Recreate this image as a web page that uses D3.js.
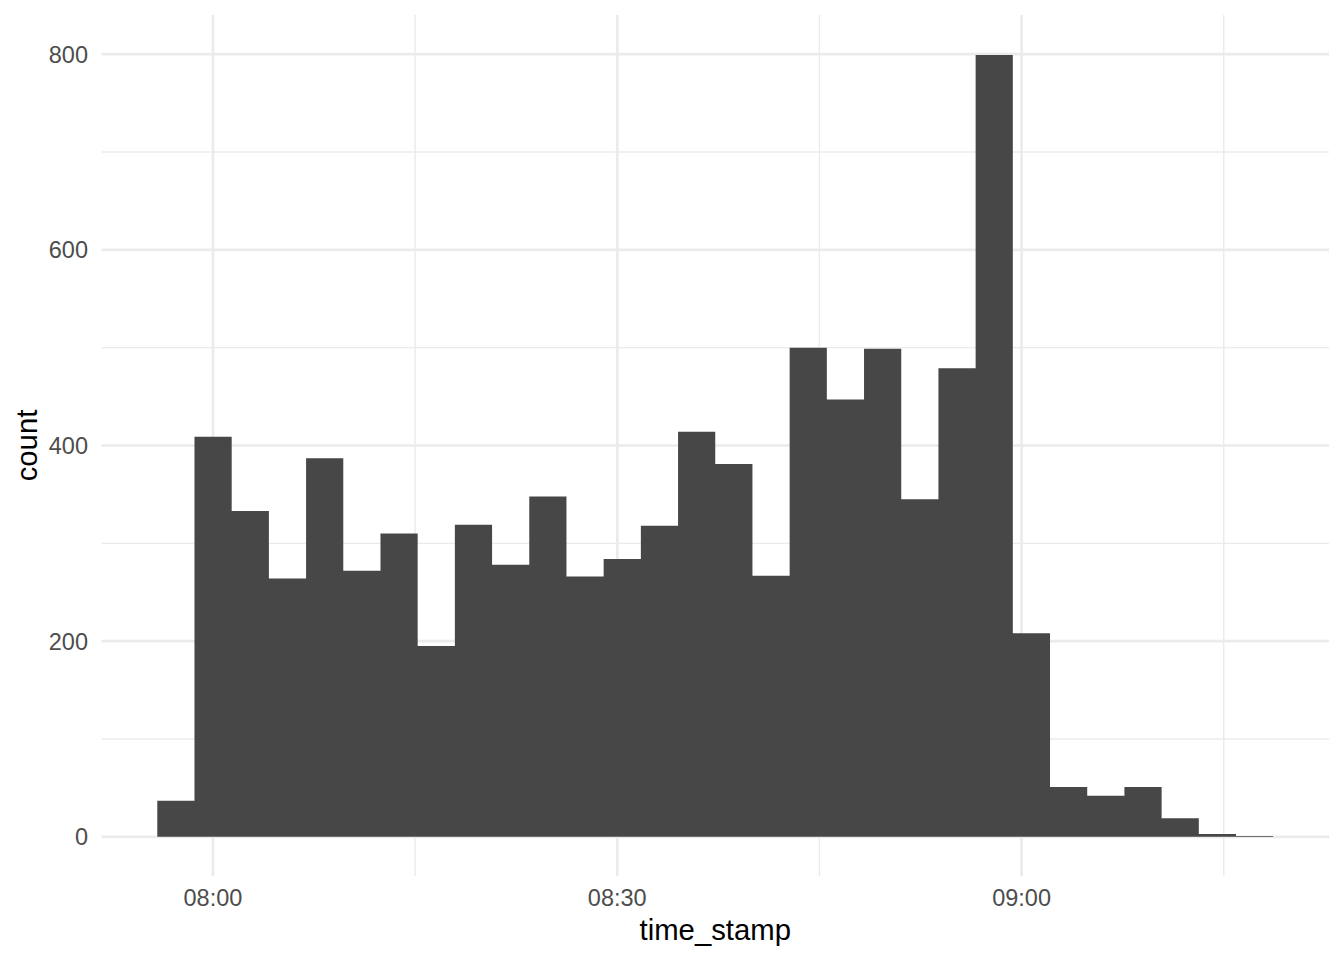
<!DOCTYPE html>
<html>
<head>
<meta charset="utf-8">
<script src="https://cdn.jsdelivr.net/npm/d3@7"></script>
<style>
  html, body { margin: 0; padding: 0; background: #fff; }
  svg { display: block; }
  text { font-family: "Liberation Sans", Arial, Helvetica, sans-serif; }
</style>
</head>
<body>
<svg id="chart" width="1344" height="960"></svg>
<script>
// ---- data ----
const binStartMinutes = -4.13;      // first bin start, minutes after 08:00
const binWidthMinutes = 2.76;       // bin width in minutes
const counts = [37, 409, 333, 264, 387, 272, 310, 195, 319, 278,
                348, 266, 284, 318, 414, 381, 267, 500, 447, 499,
                345, 479, 799, 208, 51, 42, 51, 19, 3, 1];
const xMajorTicks = ["08:00", "08:30", "09:00"];
const xMinorTicks = ["08:15", "08:45", "09:15"];
const yMajorTicks = [0, 200, 400, 600, 800];
const yMinorTicks = [100, 300, 500, 700];
const xTitle = "time_stamp";
const yTitle = "count";

// ---- helpers ----
const base = new Date(2020, 0, 1, 8, 0, 0);
const addMin = m => new Date(base.getTime() + m * 60000);
const parseHM = s => { const [h, m] = s.split(":").map(Number); return new Date(2020, 0, 1, h, m, 0); };

const bins = counts.map((c, i) => ({
  x0: addMin(binStartMinutes + i * binWidthMinutes),
  x1: addMin(binStartMinutes + (i + 1) * binWidthMinutes),
  count: c
}));

// ---- layout ----
const panel = { left: 101.5, right: 1329, top: 15, bottom: 876 };
const svg = d3.select("#chart");

const dataMin = bins[0].x0, dataMax = bins[bins.length - 1].x1;
const span = dataMax - dataMin;
const x = d3.scaleTime()
  .domain([new Date(+dataMin - span * 0.05), new Date(+dataMax + span * 0.05)])
  .range([panel.left, panel.right]);

const y = d3.scaleLinear()
  .domain([-40, 840])
  .range([panel.bottom, panel.top]);

const grid = svg.append("g");
// minor gridlines
grid.selectAll("line.ymin").data(yMinorTicks).join("line")
  .attr("x1", panel.left).attr("x2", panel.right)
  .attr("y1", d => y(d)).attr("y2", d => y(d))
  .attr("stroke", "#EBEBEB").attr("stroke-width", 1.4);
grid.selectAll("line.xmin").data(xMinorTicks.map(parseHM)).join("line")
  .attr("y1", panel.top).attr("y2", panel.bottom)
  .attr("x1", d => x(d)).attr("x2", d => x(d))
  .attr("stroke", "#EBEBEB").attr("stroke-width", 1.4);
// major gridlines
grid.selectAll("line.ymaj").data(yMajorTicks).join("line")
  .attr("x1", panel.left).attr("x2", panel.right)
  .attr("y1", d => y(d)).attr("y2", d => y(d))
  .attr("stroke", "#EBEBEB").attr("stroke-width", 2.7);
grid.selectAll("line.xmaj").data(xMajorTicks.map(parseHM)).join("line")
  .attr("y1", panel.top).attr("y2", panel.bottom)
  .attr("x1", d => x(d)).attr("x2", d => x(d))
  .attr("stroke", "#EBEBEB").attr("stroke-width", 2.7);

// bars as one stepped area (no seams between adjacent bins)
const stepPts = bins.map(b => ({ t: b.x0, c: b.count }))
  .concat([{ t: bins[bins.length - 1].x1, c: bins[bins.length - 1].count }]);
const area = d3.area()
  .x(d => x(d.t))
  .y0(y(0))
  .y1(d => y(d.c))
  .curve(d3.curveStepAfter);
svg.append("path")
  .datum(stepPts)
  .attr("d", area)
  .attr("fill", "#474747");

// axes labels
svg.append("g").selectAll("text").data(yMajorTicks).join("text")
  .attr("x", 88).attr("y", d => y(d))
  .attr("dy", "0.36em")
  .attr("text-anchor", "end")
  .attr("font-size", 23.5)
  .attr("fill", "#4D4D4D")
  .text(d => d);

svg.append("g").selectAll("text").data(xMajorTicks).join("text")
  .attr("x", d => x(parseHM(d))).attr("y", 906)
  .attr("text-anchor", "middle")
  .attr("font-size", 23.5)
  .attr("fill", "#4D4D4D")
  .text(d => d);

svg.append("text")
  .attr("x", (panel.left + panel.right) / 2).attr("y", 940)
  .attr("text-anchor", "middle")
  .attr("font-size", 29.3)
  .attr("fill", "#000")
  .text(xTitle);

svg.append("text")
  .attr("transform", `translate(37, ${(panel.top + panel.bottom) / 2}) rotate(-90)`)
  .attr("text-anchor", "middle")
  .attr("font-size", 29.3)
  .attr("fill", "#000")
  .text(yTitle);
</script>
</body>
</html>
